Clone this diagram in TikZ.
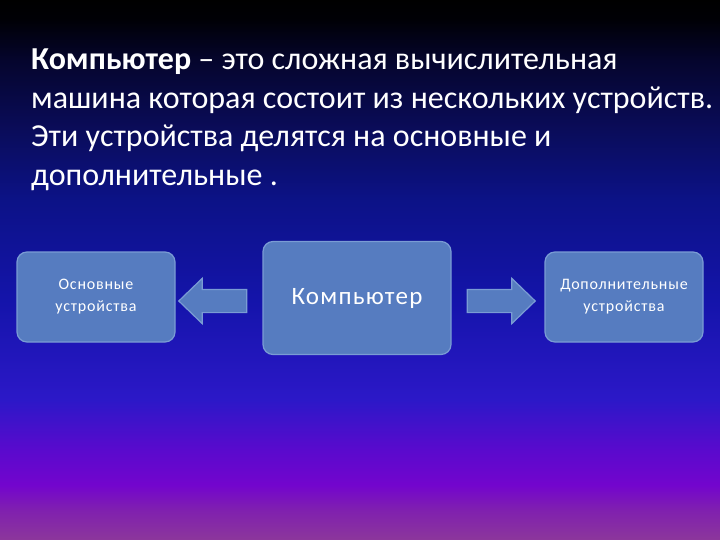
\documentclass[tikz,border=0pt]{standalone}
\usepackage{fontspec}
\setmainfont{Carlito}
\usetikzlibrary{positioning, shapes.arrows}
\definecolor{boxfill}{RGB}{86,124,192}
\definecolor{boxline}{RGB}{122,156,212}
\definecolor{bga}{RGB}{0,0,0}
\definecolor{bgb}{RGB}{0,0,6}
\definecolor{bgc}{RGB}{5,5,45}
\definecolor{bgd}{RGB}{10,12,90}
\definecolor{bge}{RGB}{12,18,135}
\definecolor{bgf}{RGB}{20,20,170}
\definecolor{bgg}{RGB}{44,24,200}
\definecolor{bgh}{RGB}{90,10,205}
\definecolor{bgi}{RGB}{115,5,205}
\definecolor{bgj}{RGB}{128,32,175}
\definecolor{bgk}{RGB}{140,55,155}
\pgfdeclareverticalshading{slidebg}{100bp}{color(0bp)=(bgk); color(25bp)=(bgk); color(27.78bp)=(bgj); color(30.09bp)=(bgi); color(33.33bp)=(bgh); color(37.96bp)=(bgg); color(47.22bp)=(bgf); color(56.48bp)=(bge); color(62.96bp)=(bgd); color(69.44bp)=(bgc); color(73.15bp)=(bgb); color(75bp)=(bga); color(100bp)=(bga)}

\begin{document}
\begin{tikzpicture}[x=1pt, y=-1pt]
	\tikzstyle{devbox}=[rectangle, rounded corners=10pt, draw=boxline, line width=1.2pt, fill=boxfill, text=white, align=center, inner sep=0pt]
	\tikzstyle{blockarrow}=[single arrow, draw=boxline, fill=boxfill, line width=1.2pt, minimum height=68pt, single arrow head extend=11pt, single arrow tip angle=88, inner xsep=0pt, inner ysep=11pt]

	\useasboundingbox (0,0) rectangle (720,540);
	\shade[shading=slidebg] (0,0) rectangle (720,540);

	\node[anchor=north west, align=left, text=white, inner sep=0pt, font=\fontsize{32}{38.5}\selectfont] (intro) at (31,49) {\textbf{Компьютер} – это сложная вычислительная\\машина которая состоит из нескольких устройств.\\Эти устройства делятся на основные и\\дополнительные .};

	\node[devbox, minimum width=188pt, minimum height=113pt, font=\fontsize{25}{30}\selectfont\addfontfeature{LetterSpace=5}] (comp) at (357,298) {\raisebox{-2pt}{Компьютер}};
	\node[blockarrow, shape border rotate=180, left=15pt of comp, yshift=-3pt] (toleft) {};
	\node[blockarrow, right=15pt of comp, yshift=-3pt] (toright) {};
	\node[devbox, minimum width=158pt, minimum height=90pt, font=\fontsize{16}{22}\selectfont\addfontfeature{LetterSpace=5}] (basic) at (96,297) {\raisebox{-3pt}{Основные}\\\raisebox{-3pt}{устройства}};
	\node[devbox, minimum width=158pt, minimum height=90pt, font=\fontsize{16}{22}\selectfont\addfontfeature{LetterSpace=5}] (extra) at (624,297) {\raisebox{-3pt}{Дополнительные}\\\raisebox{-3pt}{устройства}};
\end{tikzpicture}
\end{document}
